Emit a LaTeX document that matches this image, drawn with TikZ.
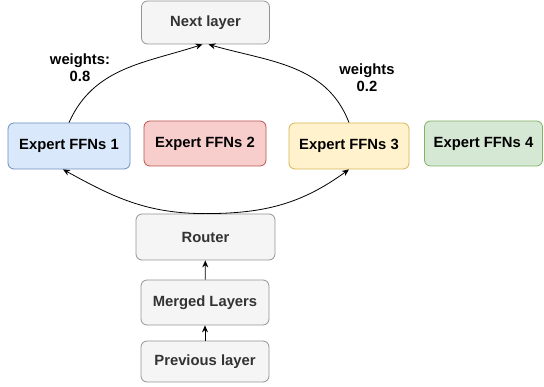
\documentclass[tikz,border=0pt]{standalone}
\usepackage{fontspec}
\setmainfont{Liberation Sans}
\usetikzlibrary{arrows.meta}

\definecolor{blueFill}{HTML}{DAE8FC}
\definecolor{blueLine}{HTML}{6C8EBF}
\definecolor{redFill}{HTML}{F8CECC}
\definecolor{redLine}{HTML}{B85450}
\definecolor{yellowFill}{HTML}{FFF2CC}
\definecolor{yellowLine}{HTML}{D6B656}
\definecolor{greenFill}{HTML}{D5E8D4}
\definecolor{greenLine}{HTML}{82B366}
\definecolor{greyFill}{HTML}{F5F5F5}
\definecolor{greyLine}{HTML}{666666}
\definecolor{greyText}{HTML}{333333}

\begin{document}
\begin{tikzpicture}[x=1pt, y=1pt,
  box/.style={draw, rectangle, rounded corners=6pt, line width=0.8pt, font=\fontsize{14.8}{17}\selectfont\bfseries},
  layer/.style={box, fill=greyFill, draw=greyLine!70, text=greyText},
  expert/.style={box, text=black},
  flow/.style={-{Stealth[length=7pt,width=6pt]}, line width=0.8pt},
  weight/.style={align=center, font=\fontsize{14.8}{17}\selectfont\bfseries}]
\useasboundingbox (0,0) rectangle (544,-387);

\node (next) [layer, minimum width=128pt, minimum height=43pt] at (205.5,-22.5) {Next layer};
\node (exp1) [expert, fill=blueFill, draw=blueLine, minimum width=122pt, minimum height=46pt] at (69,-146) {Expert FFNs 1};
\node (exp2) [expert, fill=redFill, draw=redLine, minimum width=122pt, minimum height=45pt] at (205,-143.5) {Expert FFNs 2};
\node (exp3) [expert, fill=yellowFill, draw=yellowLine, minimum width=120pt, minimum height=46pt] at (349,-146) {Expert FFNs 3};
\node (exp4) [expert, fill=greenFill, draw=greenLine, minimum width=118pt, minimum height=45pt] at (483.5,-143.5) {Expert FFNs 4};
\node (router) [layer, minimum width=139pt, minimum height=46pt] at (205.5,-237) {Router};
\node (merged) [layer, minimum width=128pt, minimum height=45pt] at (205,-302.5) {Merged Layers};
\node (prev) [layer, minimum width=128pt, minimum height=41pt] at (205,-361.5) {Previous layer};

\node (w1) [weight] at (80,-68) {weights:\\0.8};
\node (w2) [weight] at (367,-78) {weights\\0.2};

\draw[flow] (prev) -- (merged);
\draw[flow] (merged) -- (router);
\draw[flow] (router.north) to[out=180, in=-29] ([xshift=-6pt]exp1.south);
\draw[flow] (router.north) to[out=0, in=216] (exp3.south);
\draw[flow] (exp1.north) to[out=66, in=198] ([xshift=-3pt]next.south);
\draw[flow] (exp3.north) to[out=111, in=-16] ([xshift=3pt]next.south);
\end{tikzpicture}
\end{document}
